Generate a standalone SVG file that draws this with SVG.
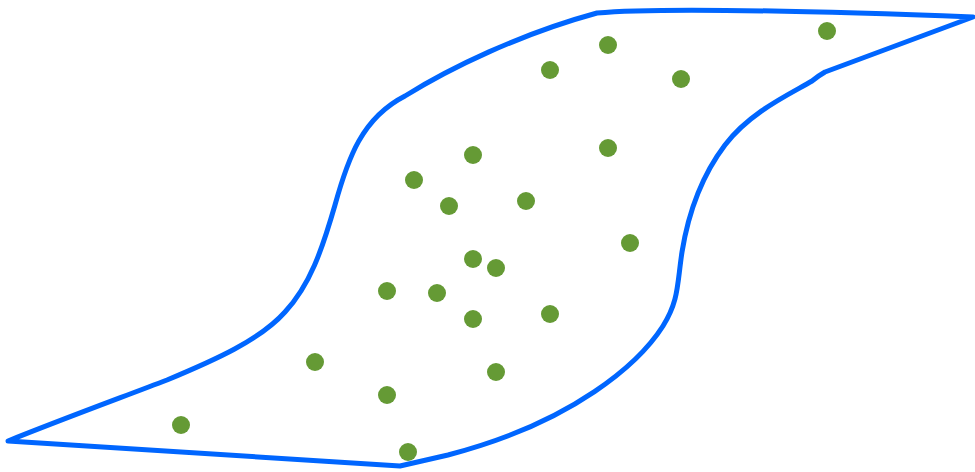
<svg xmlns="http://www.w3.org/2000/svg" width="975" height="472" viewBox="0 0 975 472">
<style>
.outline{fill:none;stroke:#0066ff;stroke-width:5;stroke-linejoin:round;stroke-linecap:round}
.dot{fill:#659a35}
</style>
<rect width="975" height="472" fill="#ffffff"/>
<path class="outline" d="M 8 441 C 60 420, 120 398, 167 380 C 215 360, 260 340, 285 312 C 310 285, 322 250, 335 205 C 348 158, 362 118, 405 96 C 450 68, 520 34, 597 13 C 640 9, 760 9, 973 17 L 825 72 Q 818 76, 812 81 C 790 94, 750 112, 725 145 C 700 178, 688 215, 682 252 C 677 285, 679 300, 663 326 C 640 362, 575 422, 448 455 L 400 466 Z"/>
<g id="dots">
<circle class="dot" cx="827" cy="31" r="9"/>
<circle class="dot" cx="608" cy="45" r="9"/>
<circle class="dot" cx="550" cy="70" r="9"/>
<circle class="dot" cx="681" cy="79" r="9"/>
<circle class="dot" cx="473" cy="155" r="9"/>
<circle class="dot" cx="608" cy="148" r="9"/>
<circle class="dot" cx="414" cy="180" r="9"/>
<circle class="dot" cx="449" cy="206" r="9"/>
<circle class="dot" cx="526" cy="201" r="9"/>
<circle class="dot" cx="630" cy="243" r="9"/>
<circle class="dot" cx="473" cy="259" r="9"/>
<circle class="dot" cx="496" cy="268" r="9"/>
<circle class="dot" cx="387" cy="291" r="9"/>
<circle class="dot" cx="437" cy="293" r="9"/>
<circle class="dot" cx="473" cy="319" r="9"/>
<circle class="dot" cx="550" cy="314" r="9"/>
<circle class="dot" cx="315" cy="362" r="9"/>
<circle class="dot" cx="496" cy="372" r="9"/>
<circle class="dot" cx="387" cy="395" r="9"/>
<circle class="dot" cx="181" cy="425" r="9"/>
<circle class="dot" cx="408" cy="452" r="9"/>
</g>
</svg>
